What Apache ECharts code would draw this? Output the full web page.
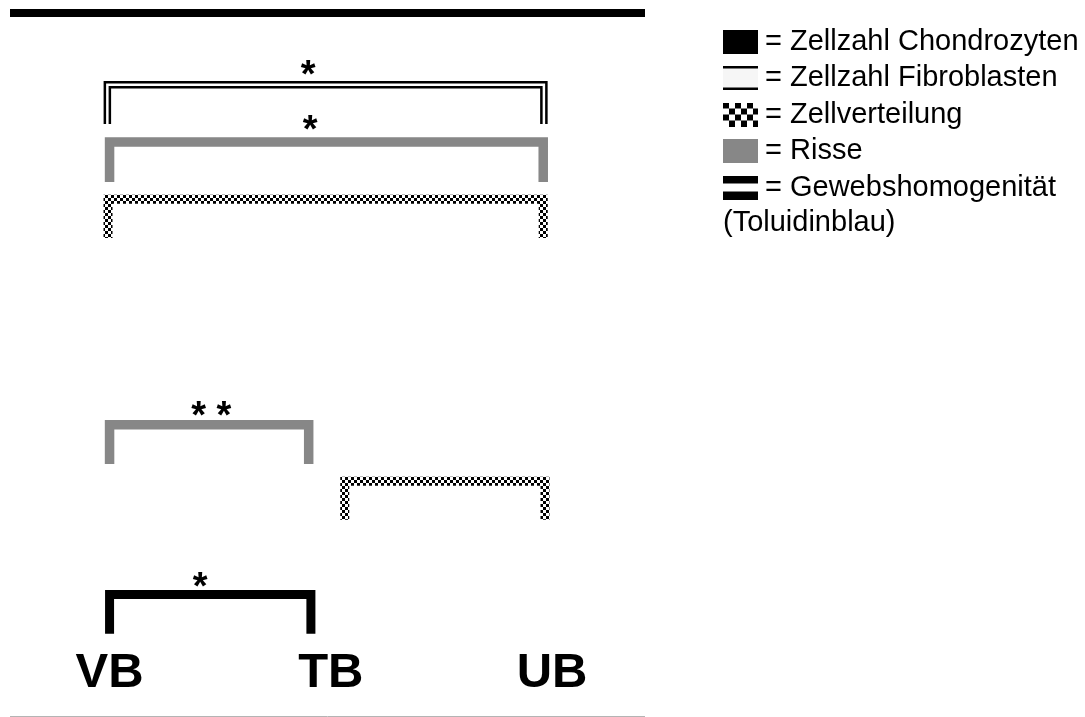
<!DOCTYPE html>
<html>
<head>
<meta charset="utf-8">
<title>Signifikanzen VB / TB / UB</title>
<script src="https://cdn.jsdelivr.net/npm/echarts@6/dist/echarts.min.js"></script>
<style>
  html, body { margin: 0; padding: 0; background: #fff; }
  #chart { width: 1085px; height: 717px; }
</style>
</head>
<body>
<div id="chart"></div>
<script>
// Gruppen auf der x-Achse
const categories = ['VB', 'TB', 'UB'];
const groupValues = [0, 1, 2];

// Parameter (Legende)
const parameterNames = [
  'Zellzahl Chondrozyten',
  'Zellzahl Fibroblasten',
  'Zellverteilung',
  'Risse',
  'Gewebshomogenität'
];

// Klammern: [von, bis, Höhe oben, Höhe Beinende] (x in Gruppen-Einheiten, y 0..100)
const chondrozytenBrackets = [[0.0, 0.91, 17.3, 11.7]];
const fibroblastenBrackets = [[-0.01, 1.963, 89.8, 84.2]];
const verteilungBrackets = [[-0.007, 1.96, 73.5, 68.0], [1.063, 1.968, 33.4, 27.9]];
const risseBrackets = [[0.0, 1.96, 81.65, 75.96], [0.0, 0.9, 41.44, 35.83]];
const homogenitaetBrackets = [];

// Sternchen: [x, y, Text]
const stars = [[0.897, 92.4, '*'], [0.906, 84.6, '*'], [0.46, 43.9, '* *'], [0.409, 19.6, '*']];

const FONT = "'Liberation Sans', Arial, sans-serif";

// Schachbrettmuster
function checkerCanvas(cell, cols, rows) {
  const c = document.createElement('canvas');
  c.width = cell * cols;
  c.height = cell * rows;
  const ctx = c.getContext('2d');
  ctx.fillStyle = '#fff';
  ctx.fillRect(0, 0, c.width, c.height);
  ctx.fillStyle = '#000';
  for (let i = 0; i < cols; i++) {
    for (let j = 0; j < rows; j++) {
      if ((i + j) % 2 === 0) ctx.fillRect(i * cell, j * cell, cell, cell);
    }
  }
  return c;
}
const checkerPattern = { image: checkerCanvas(3, 2, 2), repeat: 'repeat' };

// Legenden-Symbole
function iconUrl(draw) {
  const c = document.createElement('canvas');
  c.width = 35;
  c.height = 24;
  draw(c.getContext('2d'));
  return 'image://' + c.toDataURL();
}
const icons = [
  iconUrl(function (ctx) { ctx.fillStyle = '#000'; ctx.fillRect(0, 0, 35, 24); }),
  iconUrl(function (ctx) {
    ctx.fillStyle = '#f6f6f6'; ctx.fillRect(0, 2, 35, 20);
    ctx.fillStyle = '#000'; ctx.fillRect(0, 0, 35, 2.5); ctx.fillRect(0, 21.5, 35, 2.5);
  }),
  iconUrl(function (ctx) { ctx.drawImage(checkerCanvas(6, 6, 4), 0, 0); }),
  iconUrl(function (ctx) { ctx.fillStyle = '#878787'; ctx.fillRect(0, 0, 35, 24); }),
  iconUrl(function (ctx) {
    ctx.fillStyle = '#000'; ctx.fillRect(0, 0, 35, 8); ctx.fillRect(0, 16, 35, 8);
  })
];

function bracketPoints(api, off) {
  const a = api.coord([api.value(0), api.value(3)]);
  const b = api.coord([api.value(0), api.value(2)]);
  const c = api.coord([api.value(1), api.value(2)]);
  const d = api.coord([api.value(1), api.value(3)]);
  return [[a[0] - off, a[1]], [b[0] - off, b[1] - off], [c[0] + off, c[1] - off], [d[0] + off, d[1]]];
}

function bracketRenderer(kind) {
  return function (params, api) {
    if (kind === 'double') {
      return {
        type: 'group',
        children: [2.5, -2.5].map(function (off) {
          return {
            type: 'polyline',
            shape: { points: bracketPoints(api, off) },
            style: { stroke: '#000', lineWidth: 2.5, fill: null, lineJoin: 'miter', lineCap: 'butt' }
          };
        })
      };
    }
    let stroke = '#000', width = 9;
    if (kind === 'gray') { stroke = '#878787'; width = 9.5; }
    if (kind === 'checker') { stroke = checkerPattern; width = 9; }
    return {
      type: 'polyline',
      shape: { points: bracketPoints(api, 0) },
      style: { stroke: stroke, lineWidth: width, fill: null, lineJoin: 'miter', lineCap: 'butt' }
    };
  };
}

const bracketSets = [chondrozytenBrackets, fibroblastenBrackets, verteilungBrackets, risseBrackets, homogenitaetBrackets];
const bracketKinds = ['solid', 'double', 'checker', 'gray', 'solid'];

const series = parameterNames.map(function (name, i) {
  return {
    name: name,
    type: 'custom',
    xAxisIndex: 0,
    yAxisIndex: 0,
    silent: true,
    clip: false,
    renderItem: bracketRenderer(bracketKinds[i]),
    data: bracketSets[i]
  };
});

series.push({
  name: 'Signifikanz',
  type: 'custom',
  silent: true,
  clip: false,
  renderItem: function (params, api) {
    const p = api.coord([api.value(0), api.value(1)]);
    return {
      type: 'text',
      style: {
        text: stars[params.dataIndex][2],
        x: p[0],
        y: p[1] + 10,
        align: 'center',
        verticalAlign: 'middle',
        font: 'bold 38px ' + FONT,
        fill: '#000'
      }
    };
  },
  data: stars.map(function (s) { return [s[0], s[1]]; })
});

const chart = echarts.init(document.getElementById('chart'), null, { renderer: 'canvas' });

const option = {
  animation: false,
  backgroundColor: '#fff',
  title: {
    text: '(Toluidinblau)',
    left: 723,
    top: 208,
    padding: 0,
    textStyle: { fontFamily: FONT, fontSize: 29, fontWeight: 'normal', color: '#000' }
  },
  legend: {
    orient: 'vertical',
    left: 723,
    top: 27,
    padding: 0,
    itemWidth: 35,
    itemHeight: 24,
    itemGap: 7.5,
    selectedMode: false,
    data: parameterNames.map(function (n, i) { return { name: n, icon: icons[i] }; }),
    formatter: function (n) { return '= ' + n; },
    textStyle: { fontFamily: FONT, fontSize: 29, lineHeight: 29, color: '#000', padding: [0, 0, 0, 2] }
  },
  grid: { left: 10, right: 440, top: 13, bottom: 1 },
  xAxis: [
    {
      type: 'value',
      position: 'bottom',
      min: -0.45,
      max: 2.42,
      axisLine: { show: true, onZero: false, lineStyle: { color: '#b4b4b4', width: 1, cap: 'butt' } },
      axisTick: { show: false },
      splitLine: { show: false },
      axisLabel: {
        inside: true,
        customValues: groupValues,
        formatter: function (v) { return categories[Math.round(v)]; },
        margin: 18,
        fontFamily: FONT,
        fontSize: 49,
        fontWeight: 'bold',
        color: '#000'
      }
    },
    {
      type: 'value',
      position: 'top',
      min: -0.45,
      max: 2.42,
      axisLine: { show: true, onZero: false, lineStyle: { color: '#000', width: 8, cap: 'butt' } },
      axisTick: { show: false },
      splitLine: { show: false },
      axisLabel: { show: false }
    }
  ],
  yAxis: { type: 'value', min: 0, max: 100, show: false },
  series: series
};

chart.setOption(option);
</script>
</body>
</html>
